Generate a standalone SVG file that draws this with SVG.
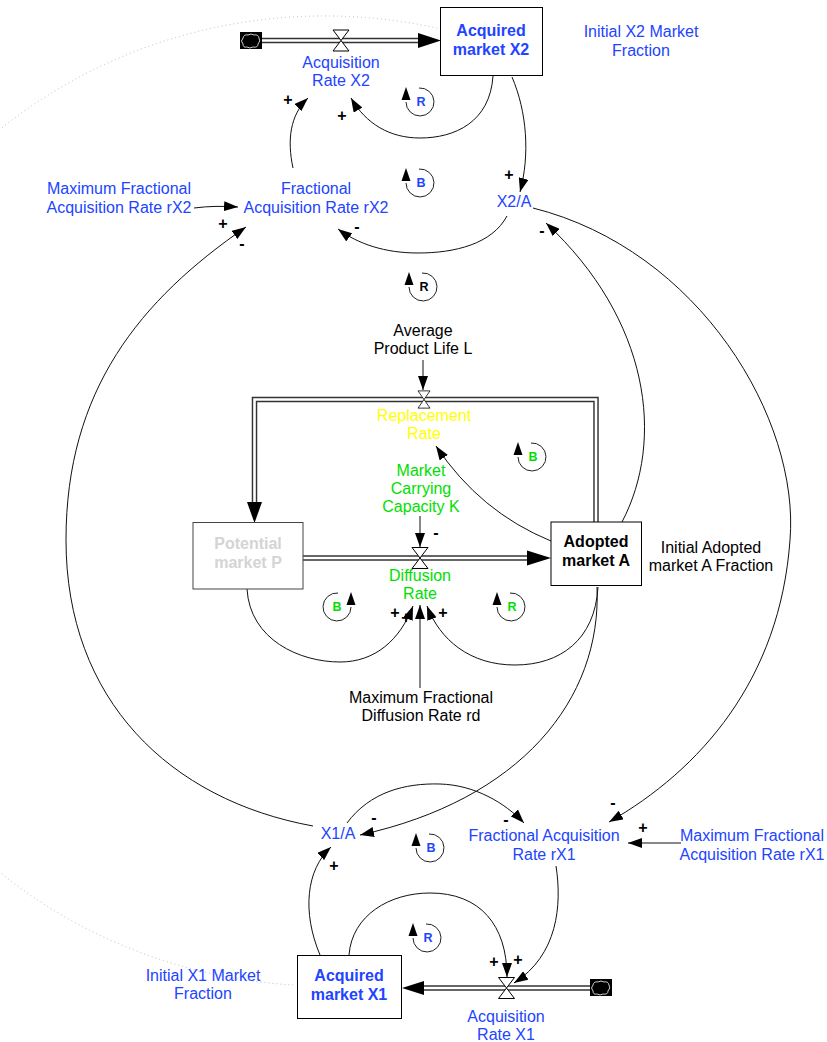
<svg xmlns="http://www.w3.org/2000/svg" xmlns:xlink="http://www.w3.org/1999/xlink" width="827" height="1042" viewBox="0 0 827 1042">
  <style>
    text { font-family: "Liberation Sans", Arial, Helvetica, sans-serif; font-size: 16px; text-anchor: middle; }
    .blue { fill: #2244ff; }
    .green { fill: #00e000; }
    .yellow { fill: #ffff00; }
    .black { fill: #000; }
    .stockname { font-weight: bold; }
    .stock { fill: #fff; stroke: #000; stroke-width: 1; }
    .pol { font-weight: bold; font-size: 16px; fill: #000; }
    .loopletter { font-weight: bold; font-size: 12.5px; }
    .link { fill: none; stroke: #111; stroke-width: 1; marker-end: url(#arr); }
    .pipeOuter { fill: none; stroke: #333; stroke-width: 5.5; stroke-linejoin: miter; }
    .pipeInner { fill: none; stroke: #fff; stroke-width: 2.6; stroke-linejoin: miter; }
    .init { fill: none; stroke: #bdbdbd; stroke-width: 1; stroke-dasharray: 1 3; }
  </style>
  <defs>
    <marker id="arr" viewBox="0 0 14 10" refX="14" refY="5" markerUnits="userSpaceOnUse" markerWidth="14" markerHeight="10" orient="auto">
      <path d="M0,0 L14,5 L0,10 z" fill="#000"/>
    </marker>
    <g id="cloud">
      <rect x="0" y="0" width="22" height="17" fill="#000"/>
      <path d="M3,6 q1,-4 5,-3 q3,-2 6,0 q4,-1 5,3 q2,3 -1,6 q0,4 -5,3 q-3,2 -6,0 q-4,1 -4,-3 q-3,-3 0,-6z" fill="none" stroke="#fff" stroke-width="0.8"/>
    </g>
    <g id="valve">
      <polygon points="-8,-10.5 8,-10.5 0,0" fill="#fff" stroke="#000" stroke-width="1"/>
      <polygon points="0,0 -8,10.5 8,10.5" fill="#fff" stroke="#000" stroke-width="1"/>
    </g>
    <!-- loop marker, arrow on the left pointing up -->
    <g id="loopL">
      <path d="M-1,-14 A14 14 0 1 1 -14,0" fill="none" stroke="#222" stroke-width="1"/>
      <polygon points="-14,-15 -18.5,-2 -9.5,-2" fill="#000"/>
    </g>
    <!-- loop marker, arrow on the right pointing up -->
    <g id="loopR">
      <path d="M1,-14 A14 14 0 1 0 14,0" fill="none" stroke="#222" stroke-width="1"/>
      <polygon points="14,-15 18.5,-2 9.5,-2" fill="#000"/>
    </g>
  </defs>

  <rect width="827" height="1042" fill="#fff"/>

  <!-- initial-value link between the two acquired stocks -->
  <path class="init" d="M441,29 A505 485 0 1 0 293,985"/>

  <!-- material flows -->
  <g id="flows">
    <!-- acquisition X2 -->
    <path class="pipeOuter" d="M262,40.5 H420"/>
    <path class="pipeInner" d="M262,40.5 H421"/>
    <polygon points="418,33 441,40.5 418,48" fill="#000"/>
    <!-- diffusion -->
    <path class="pipeOuter" d="M303,558 H528"/>
    <path class="pipeInner" d="M303,558 H529"/>
    <polygon points="527,550.5 551,558 527,565.5" fill="#000"/>
    <!-- replacement -->
    <path class="pipeOuter" d="M596,522 V399.5 H254.5 V503"/>
    <path class="pipeInner" d="M596,523 V399.5 H254.5 V504"/>
    <polygon points="247,502 262,502 254.5,523" fill="#000"/>
    <!-- acquisition X1 -->
    <path class="pipeOuter" d="M590,988 H423"/>
    <path class="pipeInner" d="M590,988 H422"/>
    <polygon points="424,981 402,988 424,995" fill="#000"/>
  </g>

  <!-- causal links -->
  <g id="connectors">
    <path class="link" d="M493,76 C490,122 455,138 420,138 C390,138 366,124 351,98"/>
    <path class="link" d="M293,168 C287,140 290,115 308,98"/>
    <path class="link" d="M512,77 C527,112 530,155 520,192"/>
    <path class="link" d="M194,208 C210,206 222,206 238,207"/>
    <path class="link" d="M507,216 C492,244 455,253 418,253 C385,253 358,244 338,229"/>
    <path class="link" d="M313,826 C170,800 66,700 66,540 C66,390 140,300 246,227"/>
    <path class="link" d="M622,522 C665,440 650,320 546,223"/>
    <path class="link" d="M533,208 C700,250 800,420 790,540 C780,680 700,770 609,822"/>
    <path class="link" d="M423,360 L423,390"/>
    <path class="link" d="M551,541 Q480,512 436,446"/>
    <path class="link" d="M420,516 L420,547"/>
    <path class="link" d="M247,589 C250,640 300,662 340,662 C375,662 400,640 413,606"/>
    <path class="link" d="M420,688 L420,605"/>
    <path class="link" d="M598,587 C595,640 560,665 515,665 C470,665 440,640 427,606"/>
    <path class="link" d="M597,587 C602,700 520,800 360,835"/>
    <path class="link" d="M347,823 C370,792 405,783 440,784 C475,785 505,803 524,823"/>
    <path class="link" d="M681,843 L628,843"/>
    <path class="link" d="M556,866 C562,905 558,955 514,983"/>
    <path class="link" d="M349,955 C352,915 390,893 430,893 C480,893 507,925 507,977"/>
    <path class="link" d="M320,955 C302,912 306,870 331,847"/>
  </g>

  <!-- link polarities -->
  <g id="polarities">
    <text class="pol" x="288" y="105">+</text>
    <text class="pol" x="342" y="121">+</text>
    <text class="pol" x="509" y="180">+</text>
    <text class="pol" x="223" y="229">+</text>
    <text class="pol" x="357" y="232">-</text>
    <text class="pol" x="242" y="249">-</text>
    <text class="pol" x="542" y="236">-</text>
    <text class="pol" x="436" y="538">-</text>
    <text class="pol" x="395" y="618">+</text>
    <text class="pol" x="406" y="623">+</text>
    <text class="pol" x="443" y="618">+</text>
    <text class="pol" x="374" y="823">-</text>
    <text class="pol" x="506" y="825">-</text>
    <text class="pol" x="613" y="808">-</text>
    <text class="pol" x="643" y="833">+</text>
    <text class="pol" x="334" y="871">+</text>
    <text class="pol" x="494" y="967">+</text>
    <text class="pol" x="518" y="965">+</text>
  </g>

  <!-- feedback loop markers -->
  <g id="loops">
    <use xlink:href="#loopL" x="420" y="102"/>
    <text class="loopletter blue" x="421" y="106">R</text>
    <use xlink:href="#loopL" x="420" y="183"/>
    <text class="loopletter blue" x="421" y="187">B</text>
    <use xlink:href="#loopL" x="423" y="287"/>
    <text class="loopletter black" x="424" y="291">R</text>
    <use xlink:href="#loopL" x="532" y="457"/>
    <text class="loopletter green" x="533" y="461">B</text>
    <use xlink:href="#loopR" x="337" y="607"/>
    <text class="loopletter green" x="337" y="611">B</text>
    <use xlink:href="#loopL" x="511" y="607"/>
    <text class="loopletter green" x="512" y="611">R</text>
    <use xlink:href="#loopL" x="430" y="848"/>
    <text class="loopletter blue" x="431" y="852">B</text>
    <use xlink:href="#loopL" x="427" y="938"/>
    <text class="loopletter blue" x="428" y="942">R</text>
  </g>

  <!-- stocks -->
  <g id="acquired-market-x2">
    <rect class="stock" x="440.5" y="7.5" width="102" height="68"/>
    <text class="stockname blue" x="491" y="36">Acquired</text>
    <text class="stockname blue" x="491" y="55">market X2</text>
  </g>
  <g id="potential-market-p">
    <rect x="193" y="522.5" width="110" height="66.5" fill="#fff" stroke="#444" stroke-width="1"/>
    <text class="stockname" fill="#d4d4d4" x="248" y="549">Potential</text>
    <text class="stockname" fill="#d4d4d4" x="248" y="568">market P</text>
  </g>
  <g id="adopted-market-a">
    <rect class="stock" x="551" y="522" width="90.5" height="63.5"/>
    <text class="stockname black" x="596" y="547">Adopted</text>
    <text class="stockname black" x="596" y="566">market A</text>
  </g>
  <g id="acquired-market-x1">
    <rect class="stock" x="297.5" y="955.5" width="104" height="63"/>
    <text class="stockname blue" x="349" y="981">Acquired</text>
    <text class="stockname blue" x="349" y="1000">market X1</text>
  </g>

  <!-- sources / sinks -->
  <g id="cloud-x2"><use xlink:href="#cloud" x="240" y="32"/></g>
  <g id="cloud-x1"><use xlink:href="#cloud" x="590" y="979"/></g>

  <!-- rates -->
  <g id="acquisition-rate-x2">
    <use xlink:href="#valve" x="341" y="40.5"/>
    <text class="blue" x="341" y="68">Acquisition</text>
    <text class="blue" x="341" y="86">Rate X2</text>
  </g>
  <g id="replacement-rate">
    <g transform="translate(424,399.5) scale(0.75,0.82)"><use xlink:href="#valve"/></g>
    <text class="yellow" x="424" y="421">Replacement</text>
    <text class="yellow" x="424" y="439">Rate</text>
  </g>
  <g id="diffusion-rate">
    <use xlink:href="#valve" x="420" y="558"/>
    <text class="green" x="420" y="581">Diffusion</text>
    <text class="green" x="420" y="599">Rate</text>
  </g>
  <g id="acquisition-rate-x1">
    <use xlink:href="#valve" x="506.5" y="988"/>
    <text class="blue" x="506" y="1022">Acquisition</text>
    <text class="blue" x="506" y="1040">Rate X1</text>
  </g>

  <!-- auxiliaries -->
  <g id="initial-x2-market-fraction">
    <text class="blue" x="641" y="37">Initial X2 Market</text>
    <text class="blue" x="641" y="56">Fraction</text>
  </g>
  <g id="maximum-fractional-acquisition-rate-rx2">
    <text class="blue" x="119" y="194">Maximum Fractional</text>
    <text class="blue" x="119" y="213">Acquisition Rate rX2</text>
  </g>
  <g id="fractional-acquisition-rate-rx2">
    <text class="blue" x="316" y="194">Fractional</text>
    <text class="blue" x="316" y="213">Acquisition Rate rX2</text>
  </g>
  <g id="x2-a">
    <text class="blue" x="514" y="207">X2/A</text>
  </g>
  <g id="average-product-life-l">
    <text class="black" x="423" y="336">Average</text>
    <text class="black" x="423" y="354">Product Life L</text>
  </g>
  <g id="market-carrying-capacity-k">
    <text class="green" x="421" y="476">Market</text>
    <text class="green" x="421" y="494">Carrying</text>
    <text class="green" x="421" y="512">Capacity K</text>
  </g>
  <g id="initial-adopted-market-a-fraction">
    <text class="black" x="711" y="553">Initial Adopted</text>
    <text class="black" x="711" y="571">market A Fraction</text>
  </g>
  <g id="maximum-fractional-diffusion-rate-rd">
    <text class="black" x="421" y="703">Maximum Fractional</text>
    <text class="black" x="421" y="721">Diffusion Rate rd</text>
  </g>
  <g id="x1-a">
    <text class="blue" x="338" y="839">X1/A</text>
  </g>
  <g id="fractional-acquisition-rate-rx1">
    <text class="blue" x="544" y="841">Fractional Acquisition</text>
    <text class="blue" x="544" y="860">Rate rX1</text>
  </g>
  <g id="maximum-fractional-acquisition-rate-rx1">
    <text class="blue" x="752" y="841">Maximum Fractional</text>
    <text class="blue" x="752" y="860">Acquisition Rate rX1</text>
  </g>
  <g id="initial-x1-market-fraction">
    <text class="blue" x="203" y="981">Initial X1 Market</text>
    <text class="blue" x="203" y="999">Fraction</text>
  </g>
</svg>
